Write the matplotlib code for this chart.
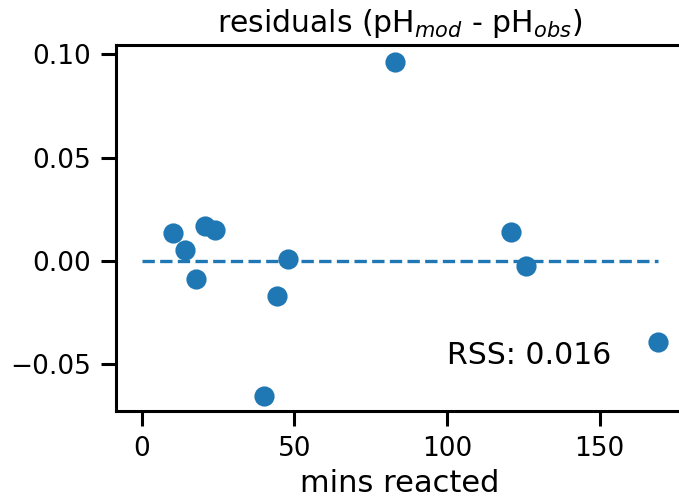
import matplotlib
matplotlib.use("Agg")
import matplotlib.pyplot as plt
import seaborn as sns

# residuals
MINS_REACTED = [10.4, 14.2, 18.0, 20.9, 24.2, 40.2, 44.3, 48.1, 83.1, 120.9, 125.8, 169.2]
RESIDUALS = [0.0134, 0.0053, -0.0087, 0.0169, 0.0150, -0.0653, -0.0169, 0.0008, 0.0961, 0.0142, -0.0023, -0.0390]
RSS_LABEL = "RSS: 0.016"

sns.set_context("talk")
sns.set_style("ticks")
plt.rcParams["font.family"] = ["DejaVu Sans"]
plt.rcParams.update({
    "text.color": "black",
    "axes.labelcolor": "black",
    "axes.edgecolor": "black",
    "xtick.color": "black",
    "ytick.color": "black",
    "axes.linewidth": 2.2,
    "xtick.major.width": 2.2,
    "ytick.major.width": 2.2,
    "xtick.major.size": 11,
    "ytick.major.size": 11,
    "xtick.major.pad": 7,
    "ytick.major.pad": 7,
    "xtick.labelsize": 19,
    "ytick.labelsize": 19,
})

fig = plt.figure(figsize=(6.79, 4.98), dpi=100)
# axes run just past the right edge, as in the cropped reference
ax = fig.add_axes([0.1704, 0.1747, 0.837, 0.735])

ax.scatter(MINS_REACTED, RESIDUALS, s=170, color="#1f77b4", zorder=3)
ax.hlines(0, 0, max(MINS_REACTED), colors="#1f77b4", linestyles="--", linewidth=2.4)
ax.text(100, -0.05, RSS_LABEL, fontsize=21.5)

ax.set_xlim(-8.46, 177.66)
ax.set_ylim(-0.0726, 0.1045)
ax.set_xticks([0, 50, 100, 150])
ax.set_yticks([-0.05, 0.0, 0.05, 0.10])
ax.set_xlabel("mins reacted", fontsize=22, labelpad=5)
ax.set_title(r"residuals (pH$_{mod}$ - pH$_{obs}$)", fontsize=21.5, pad=9)

fig.savefig("out.png", dpi=100)
